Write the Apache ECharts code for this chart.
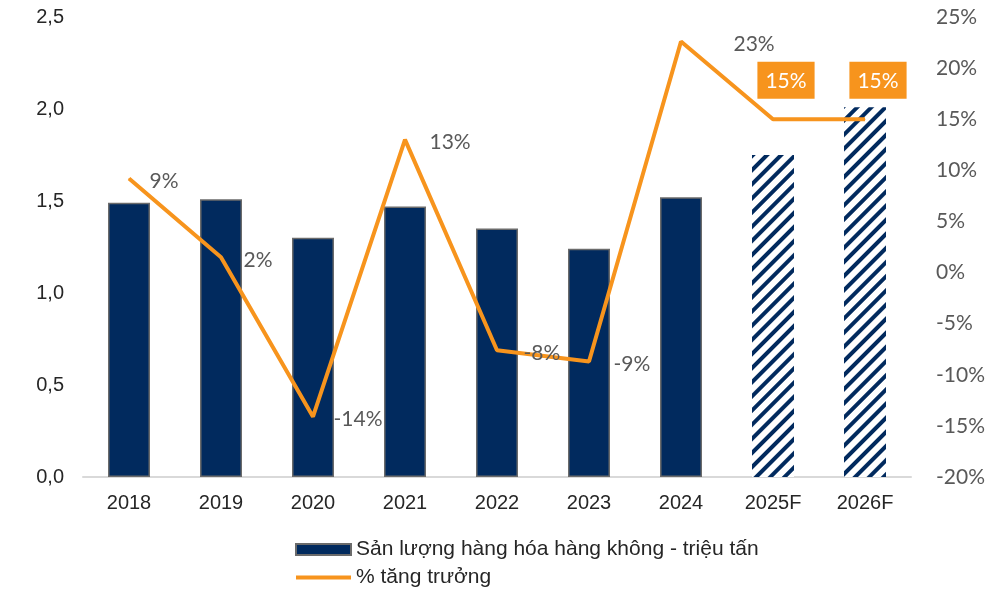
<!DOCTYPE html>
<html>
<head>
<meta charset="utf-8">
<script src="https://cdn.jsdelivr.net/npm/echarts@6/dist/echarts.min.js"></script>
<style>
    html, body { margin: 0; padding: 0; background: #fff; }
    #chart { width: 1005px; height: 589px; }
</style>
</head>
<body>
<div id="chart"></div>
<script>
const years = ['2018', '2019', '2020', '2021', '2022', '2023', '2024', '2025F', '2026F'];
const volume = [1.49, 1.51, 1.30, 1.47, 1.35, 1.24, 1.52, 1.75, 2.01];
const growth = [9.2, 1.5, -14.1, 13.0, -7.6, -8.7, 22.6, 15.0, 15.0];
const forecastYears = ['2025F', '2026F'];
const leftTicks = [0, 0.5, 1, 1.5, 2, 2.5];
const rightTicks = [-20, -15, -10, -5, 0, 5, 10, 15, 20, 25];

const NAVY = '#012a5e';
const ORANGE = '#f7941d';
const GREY_TEXT = '#595959';
const ARIAL = 'Liberation Sans, Arial, sans-serif';
const CALIBRI = 'Lato, sans-serif';

const chart = echarts.init(document.getElementById('chart'));

const barData = volume.map((v, i) => {
    if (!forecastYears.includes(years[i])) return v;
    return {
        value: v,
        itemStyle: {
            color: '#ffffff',
            borderWidth: 0,
            decal: {
                symbol: 'rect',
                color: NAVY,
                backgroundColor: 'transparent',
                dashArrayX: [1, 0],
                dashArrayY: [4, 6],
                rotation: -Math.PI / 4
            }
        }
    };
});

const labelDist = [20, 22, 20, 24, 26, 24, 52, 0, 0];

const lineData = growth.map((v, i) => {
    if (forecastYears.includes(years[i])) {
        return {
            value: v,
            label: {
                position: 'top',
                distance: 20,
                offset: [13, 0],
                color: '#fff',
                backgroundColor: ORANGE,
                padding: [9, 8, 7, 8],
                fontSize: 21
            }
        };
    }
    return { value: v, label: { distance: labelDist[i], offset: [0, 3] } };
});

chart.setOption({
    animation: false,
    textStyle: { fontFamily: ARIAL },
    grid: { left: 83, right: 94, top: 17, bottom: 112 },
    legend: {
        orient: 'vertical',
        left: 289,
        top: 534,
        height: 60,
        itemWidth: 55,
        itemHeight: 11,
        itemGap: 7,
        textStyle: { fontSize: 21, color: '#262626', fontFamily: ARIAL },
        data: [
            { name: 'Sản lượng hàng hóa hàng không - triệu tấn', icon: 'rect' },
            { name: '% tăng trưởng', itemStyle: { opacity: 0 }, lineStyle: { width: 4 } }
        ]
    },
    xAxis: {
        type: 'category',
        data: years,
        axisLine: { lineStyle: { color: '#d9d9d9', width: 2 } },
        axisTick: { show: false },
        axisLabel: { fontSize: 20, color: '#262626', margin: 16 }
    },
    yAxis: [
        {
            type: 'value',
            min: leftTicks[0],
            max: leftTicks[leftTicks.length - 1],
            interval: 0.5,
            splitLine: { show: false },
            axisLine: { show: false },
            axisLabel: {
                fontSize: 20,
                color: '#262626',
                margin: 19,
                formatter: (v) => v.toFixed(1).replace('.', ',')
            }
        },
        {
            type: 'value',
            min: rightTicks[0],
            max: rightTicks[rightTicks.length - 1],
            interval: 5,
            splitLine: { show: false },
            axisLine: { show: false },
            axisLabel: {
                fontSize: 21,
                color: GREY_TEXT,
                margin: 25,
                fontFamily: CALIBRI,
                formatter: '{value}%'
            }
        }
    ],
    series: [
        {
            name: 'Sản lượng hàng hóa hàng không - triệu tấn',
            type: 'bar',
            data: barData,
            barWidth: 42,
            itemStyle: { color: NAVY, borderColor: '#6b6b6b', borderWidth: 1.5 }
        },
        {
            name: '% tăng trưởng',
            type: 'line',
            yAxisIndex: 1,
            data: lineData,
            symbol: 'circle',
            symbolSize: 1,
            lineStyle: { color: ORANGE, width: 4 },
            itemStyle: { color: ORANGE },
            label: {
                show: true,
                position: 'right',
                fontSize: 21,
                color: GREY_TEXT,
                fontFamily: CALIBRI,
                formatter: (p) => Math.round(p.value) + '%'
            }
        }
    ]
});

window.addEventListener('resize', () => chart.resize());
</script>
</body>
</html>
